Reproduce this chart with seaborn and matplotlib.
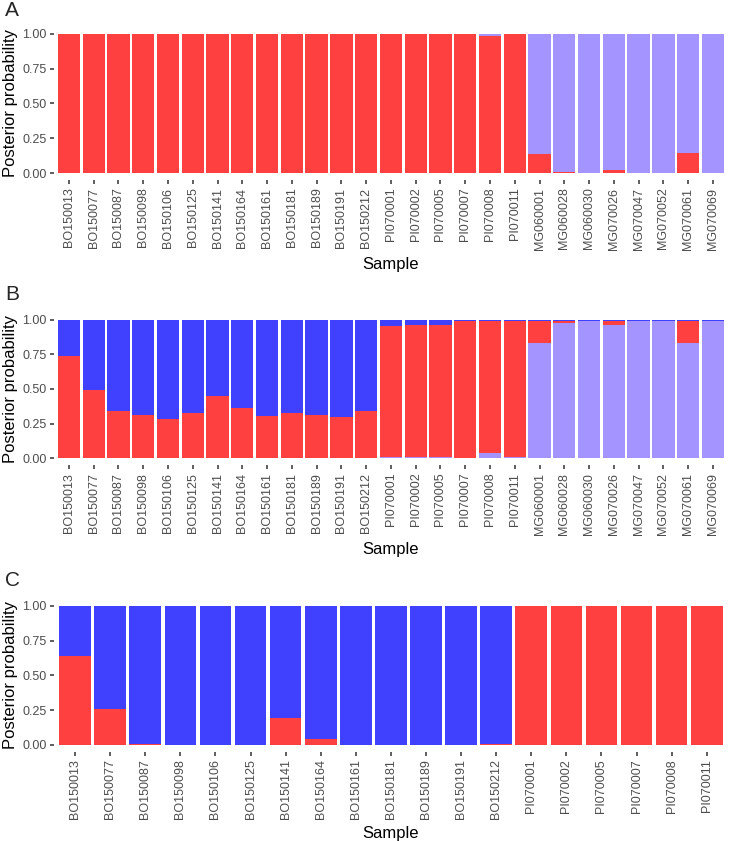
import numpy as np
import pandas as pd
import matplotlib
matplotlib.use('Agg')
import matplotlib.pyplot as plt
import seaborn as sns

# sample names
bo = ['BO150013', 'BO150077', 'BO150087', 'BO150098', 'BO150106', 'BO150125', 'BO150141',
      'BO150164', 'BO150161', 'BO150181', 'BO150189', 'BO150191', 'BO150212']
pi = ['PI070001', 'PI070002', 'PI070005', 'PI070007', 'PI070008', 'PI070011']
mg = ['MG060001', 'MG060028', 'MG060030', 'MG070026', 'MG070047', 'MG070052', 'MG070061', 'MG070069']

samples_ab = bo + pi + mg
samples_c = bo + pi

# panel A (K=2): red at bottom, lavender on top
a_red = [0.998, 1.0, 1.0, 1.0, 1.0, 1.0, 1.0, 1.0, 1.0, 1.0, 1.0, 1.0, 1.0,
         0.999, 1.0, 1.0, 1.0, 0.983, 0.998,
         0.138, 0.007, 0.0, 0.022, 0.0, 0.0, 0.143, 0.0]
a_lav = [0.002, 0.0, 0.0, 0.0, 0.0, 0.0, 0.0, 0.0, 0.0, 0.0, 0.0, 0.0, 0.0,
         0.001, 0.0, 0.0, 0.0, 0.017, 0.002,
         0.862, 0.993, 1.0, 0.978, 1.0, 1.0, 0.857, 1.0]

# panel B (K=3): lavender at bottom, then red, blue on top
b_lav = [0.003, 0.0, 0.0, 0.0, 0.0, 0.0, 0.0, 0.0, 0.0, 0.0, 0.0, 0.0, 0.0,
         0.005, 0.005, 0.005, 0.003, 0.034, 0.005,
         0.829, 0.978, 0.99, 0.961, 0.99, 0.99, 0.834, 0.99]
b_red = [0.735, 0.492, 0.342, 0.311, 0.284, 0.325, 0.446, 0.361, 0.308, 0.328, 0.313, 0.294, 0.342,
         0.952, 0.955, 0.957, 0.987, 0.956, 0.985,
         0.159, 0.010, 0.0, 0.029, 0.0, 0.0, 0.154, 0.0]
b_blue = [0.262, 0.508, 0.658, 0.689, 0.716, 0.675, 0.554, 0.639, 0.692, 0.672, 0.687, 0.706, 0.658,
          0.043, 0.040, 0.038, 0.010, 0.010, 0.010,
          0.012, 0.012, 0.010, 0.010, 0.010, 0.010, 0.012, 0.010]

# panel C (K=2): red at bottom, blue on top
c_red = [0.637, 0.26, 0.003, 0.0, 0.0, 0.0, 0.193, 0.043, 0.0, 0.0, 0.0, 0.0, 0.003,
         1.0, 1.0, 1.0, 1.0, 1.0, 1.0]
c_blue = [0.363, 0.74, 0.997, 1.0, 1.0, 1.0, 0.807, 0.957, 1.0, 1.0, 1.0, 1.0, 0.997,
          0.0, 0.0, 0.0, 0.0, 0.0, 0.0]

RED = '#FF4040'
BLUE = '#4040FF'
LAV = '#A394FF'

sns.set_theme(style='white')
plt.rcParams['font.family'] = ['Liberation Sans', 'DejaVu Sans']


def stacked(ax, samples, layers):
    # layers: list of (values, colour) from bottom to top
    df = pd.DataFrame({'Sample': samples})
    tops = np.cumsum([np.array(v) for v, _ in layers], axis=0)
    # draw from the top layer down so lower layers overlay
    for i in range(len(layers) - 1, -1, -1):
        df['y'] = tops[i]
        sns.barplot(data=df, x='Sample', y='y', color=layers[i][1], order=samples,
                    width=0.9, saturation=1, linewidth=0, ax=ax)
    n = len(samples)
    ax.set_xlim(-0.6, n - 0.4)
    ax.set_ylim(-0.05, 1.05)
    ax.set_yticks([0, 0.25, 0.5, 0.75, 1.0])
    ax.set_yticklabels(['0.00', '0.25', '0.50', '0.75', '1.00'])
    ax.set_ylabel('Posterior probability', fontsize=12, color='black', labelpad=3)
    ax.set_xlabel('Sample', fontsize=12, color='black', labelpad=5)
    ax.tick_params(axis='x', rotation=90)
    ax.tick_params(length=3, width=1.1, color='#333333', labelsize=9, labelcolor='#4D4D4D',
                   pad=2.5, bottom=True, left=True)
    for s in ax.spines.values():
        s.set_visible(False)


fig = plt.figure(figsize=(7.3, 8.41), dpi=100)
left, right = 0.074, 0.997
axA = fig.add_axes([left, 0.786, right - left, 0.968 - 0.786])
axB = fig.add_axes([left, 0.447, right - left, 0.628 - 0.447])
axC = fig.add_axes([left, 0.106, right - left, 0.288 - 0.106])

stacked(axA, samples_ab, [(a_red, RED), (a_lav, LAV)])
stacked(axB, samples_ab, [(b_lav, LAV), (b_red, RED), (b_blue, BLUE)])
stacked(axC, samples_c, [(c_red, RED), (c_blue, BLUE)])

for lab, y in [('A', 1 - 10 / 841), ('B', 1 - 294 / 841), ('C', 1 - 581 / 841)]:
    fig.text(5 / 730, y, lab, fontsize=15, va='center', ha='left')

fig.savefig('out.png', dpi=100)
